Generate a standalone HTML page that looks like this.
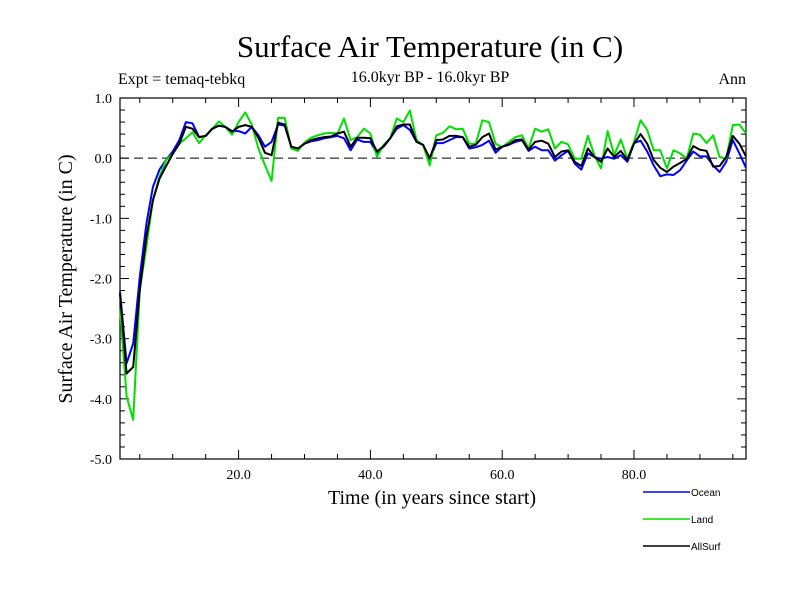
<!DOCTYPE html>
<html><head><meta charset="utf-8"><style>body{margin:0;background:#fff}svg{display:block}</style></head>
<body>
<svg id="chart" width="800" height="600" viewBox="0 0 800 600" xmlns="http://www.w3.org/2000/svg">
<rect width="800" height="600" fill="#fff"/>
<text x="430" y="57" font-family="Liberation Serif, serif" font-size="31" text-anchor="middle">Surface Air Temperature (in C)</text>
<text x="430" y="82" font-family="Liberation Serif, serif" font-size="16" text-anchor="middle">16.0kyr BP - 16.0kyr BP</text>
<text x="118" y="84" font-family="Liberation Serif, serif" font-size="16">Expt = temaq-tebkq</text>
<text x="746" y="84" font-family="Liberation Serif, serif" font-size="16" text-anchor="end">Ann</text>
<text transform="translate(72,279) rotate(-90)" font-family="Liberation Serif, serif" font-size="20" text-anchor="middle">Surface Air Temperature (in C)</text>
<text x="432" y="504" font-family="Liberation Serif, serif" font-size="20" text-anchor="middle">Time (in years since start)</text>
<g id="axes"></g>
<g id="series"></g>
<g id="legend"></g>
</svg>
<script>
const years = [];
for (let i = 2; i <= 97; i++) years.push(i);
const ocean = [-2.22,-3.41,-3.08,-1.97,-1.09,-0.48,-0.19,-0.03,0.11,0.30,0.60,0.58,0.35,0.37,0.49,0.54,0.52,0.45,0.45,0.41,0.52,0.38,0.19,0.27,0.56,0.54,0.19,0.16,0.24,0.28,0.30,0.33,0.35,0.37,0.33,0.13,0.31,0.27,0.27,0.08,0.19,0.33,0.49,0.55,0.47,0.27,0.22,-0.02,0.25,0.25,0.30,0.35,0.35,0.16,0.18,0.22,0.29,0.09,0.19,0.22,0.27,0.30,0.12,0.19,0.13,0.13,-0.04,0.05,0.12,-0.09,-0.19,0.08,0.02,-0.01,0.02,-0.01,0.05,-0.06,0.25,0.29,0.11,-0.12,-0.30,-0.27,-0.28,-0.20,-0.04,0.11,0.03,0.03,-0.12,-0.23,-0.06,0.30,0.08,-0.16];
const land = [-2.5,-3.96,-4.35,-2.19,-1.47,-0.70,-0.31,-0.03,0.07,0.24,0.33,0.43,0.25,0.38,0.49,0.61,0.52,0.39,0.60,0.76,0.56,0.16,-0.12,-0.38,0.67,0.67,0.16,0.12,0.26,0.34,0.38,0.41,0.42,0.41,0.66,0.30,0.35,0.49,0.41,0.02,0.22,0.33,0.66,0.60,0.79,0.30,0.22,-0.12,0.38,0.42,0.53,0.48,0.49,0.24,0.24,0.63,0.60,0.24,0.18,0.27,0.35,0.38,0.16,0.49,0.44,0.48,0.16,0.27,0.23,-0.01,-0.01,0.37,0.05,-0.17,0.45,0.05,0.31,-0.01,0.27,0.63,0.47,0.13,0.13,-0.17,0.13,0.08,-0.01,0.41,0.39,0.25,0.38,0.02,-0.01,0.55,0.56,0.41];
const allsurf = [-2.25,-3.58,-3.47,-2.19,-1.31,-0.70,-0.34,-0.13,0.07,0.24,0.52,0.49,0.35,0.37,0.49,0.54,0.52,0.44,0.52,0.55,0.52,0.34,0.09,0.05,0.59,0.56,0.19,0.16,0.24,0.30,0.33,0.35,0.36,0.41,0.44,0.19,0.34,0.34,0.33,0.11,0.20,0.33,0.53,0.56,0.56,0.27,0.22,0.00,0.30,0.31,0.37,0.37,0.35,0.19,0.22,0.35,0.41,0.14,0.19,0.23,0.30,0.31,0.14,0.27,0.29,0.24,0.02,0.11,0.13,-0.06,-0.13,0.16,0.02,-0.06,0.16,0.02,0.12,-0.03,0.24,0.40,0.24,-0.03,-0.16,-0.23,-0.14,-0.08,-0.01,0.20,0.14,0.12,-0.14,-0.13,0.02,0.37,0.24,0.03];
const yTicks = [1.0,0.0,-1.0,-2.0,-3.0,-4.0,-5.0];
const xTicks = [20,40,60,80];
const seriesNames = ["Ocean","Land","AllSurf"];
const seriesColors = ["#0000ff","#00e000","#000000"];

const L=120,R=746,T=98,B=459,xmin=2,xmax=97,ymin=-5,ymax=1;
const sx=v=>L+(v-xmin)/(xmax-xmin)*(R-L);
const sy=v=>B-(v-ymin)/(ymax-ymin)*(B-T);
const NS="http://www.w3.org/2000/svg";
function mk(tag,attrs,parent){const e=document.createElementNS(NS,tag);for(const k in attrs)e.setAttribute(k,attrs[k]);parent.appendChild(e);return e;}
const axes=document.getElementById('axes');
const frame=mk('rect',{x:L,y:T,width:R-L,height:B-T,fill:'none',stroke:'#000','stroke-width':1.2},axes);


const zl=mk('line',{x1:L,x2:R,y1:sy(0),y2:sy(0),stroke:'#000','stroke-dasharray':'9,5','stroke-width':1},axes);


for(let v=ymin;v<=ymax+1e-9;v+=0.2){
  const major=Math.abs(v-Math.round(v))<1e-6;const len=major?9:5;const y=sy(v);
  mk('line',{x1:L,x2:L+len,y1:y,y2:y,stroke:'#000'},axes);
  mk('line',{x1:R,x2:R-len,y1:y,y2:y,stroke:'#000'},axes);
}
for(let v=5;v<xmax;v+=5){
  const major=v%20===0;const len=major?9:5;const x=sx(v);
  mk('line',{x1:x,x2:x,y1:T,y2:T+len,stroke:'#000'},axes);
  mk('line',{x1:x,x2:x,y1:B,y2:B-len,stroke:'#000'},axes);
}
yTicks.forEach(v=>{
  const t=mk('text',{x:L-8,y:sy(v)+5,'text-anchor':'end','font-family':'Liberation Serif, serif','font-size':14},axes);
  t.textContent=v.toFixed(1);
  
  
});
xTicks.forEach(v=>{
  const t=mk('text',{x:sx(v),y:479,'text-anchor':'middle','font-family':'Liberation Serif, serif','font-size':14},axes);
  t.textContent=v.toFixed(1);
  
  
});
const ser=document.getElementById('series');
[ocean,land,allsurf].forEach((d,i)=>{
  const pts=d.map((v,j)=>sx(years[j]).toFixed(1)+','+sy(v).toFixed(1)).join(' ');
  const p=mk('polyline',{points:pts,fill:'none',stroke:seriesColors[i],'stroke-width':2,'stroke-linejoin':'round'},ser);
  
  
});
const leg=document.getElementById('legend');
seriesNames.forEach((n,i)=>{
  const y=492+27*i;
  const g=mk('g',{},leg);
  
  
  mk('line',{x1:643,x2:690,y1:y,y2:y,stroke:seriesColors[i],'stroke-width':1.5},g);
  const t=mk('text',{x:691,y:y+4,'font-family':'Liberation Sans, sans-serif','font-size':10},g);
  t.textContent=n;
});
</script>
</body></html>
